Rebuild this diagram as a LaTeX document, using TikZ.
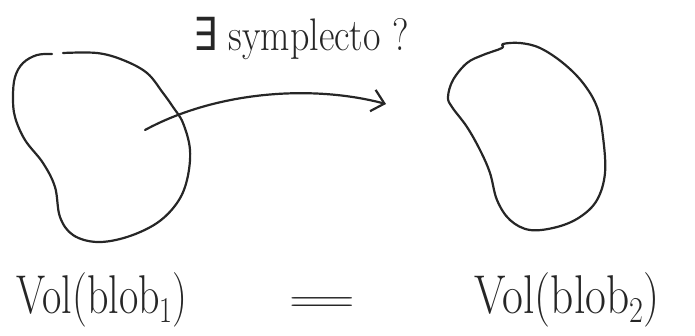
\documentclass[tikz,border=0pt]{standalone}
\usepackage{fontspec}
\newfontfamily\symfont{DejaVu Sans}
\usepackage{graphicx}
\usetikzlibrary{arrows.meta}
\newcommand{\lowsub}[1]{\raisebox{-7pt}{\fontsize{28}{30}\selectfont #1}}
\begin{document}
\begin{tikzpicture}[x=1pt,y=-1pt,
  pen/.style={line width=2.2pt,draw=black!85,line cap=round,line join=round},
  hand/.style={inner sep=0pt,text=black!85,anchor=base}]
\useasboundingbox (0,0) rectangle (695,335);
% blob 1 (small gap at top)
\draw[pen] plot[smooth,tension=0.6] coordinates {
 (52,54) (37,55) (23,63) (15,77) (13,97) (15,117) (25,140) (43,163) (55,187)
 (60,217) (73,235) (97,242) (127,237) (157,223) (177,203) (187,180) (190,150)
 (183,123) (173,107) (163,93) (147,73) (123,60) (97,53) (63,53)};
% blob 2
\draw[pen] plot[smooth cycle,tension=0.6] coordinates {
 (503,44) (520,43) (540,48) (563,63) (583,83) (597,107) (603,137) (605,173)
 (597,200) (580,217) (557,227) (530,230) (510,220) (497,200) (490,173) (480,150)
 (467,127) (452,107) (448,97) (453,80) (467,63) (483,55) (502,48)};
% arrow
\coordinate (s) at (145,130);
\coordinate (e) at (386,104);
\draw[pen,-{Straight Barb[length=12pt,width=22pt,line width=2.2pt]}] (s) .. controls (215,92) and (310,84) .. (e);
% texts
\node[hand,font=\fontsize{38}{46}\selectfont] (q) at (301,50) {\scalebox{1}[1.2]{{\symfont ∃} symplecto ?}};
\node[hand,font=\fontsize{42}{50}\selectfont] (v1) at (102,313) {\scalebox{1}[1.3]{Vol(blob\lowsub{1})}};
\node[hand,font=\fontsize{42}{50}\selectfont] (eq) at (322,312) {\scalebox{2.3}[1]{=}};
\node[hand,font=\fontsize{42}{50}\selectfont] (v2) at (567,313) {\scalebox{1.08}[1.3]{Vol(blob\lowsub{2})}};
\end{tikzpicture}
\end{document}
